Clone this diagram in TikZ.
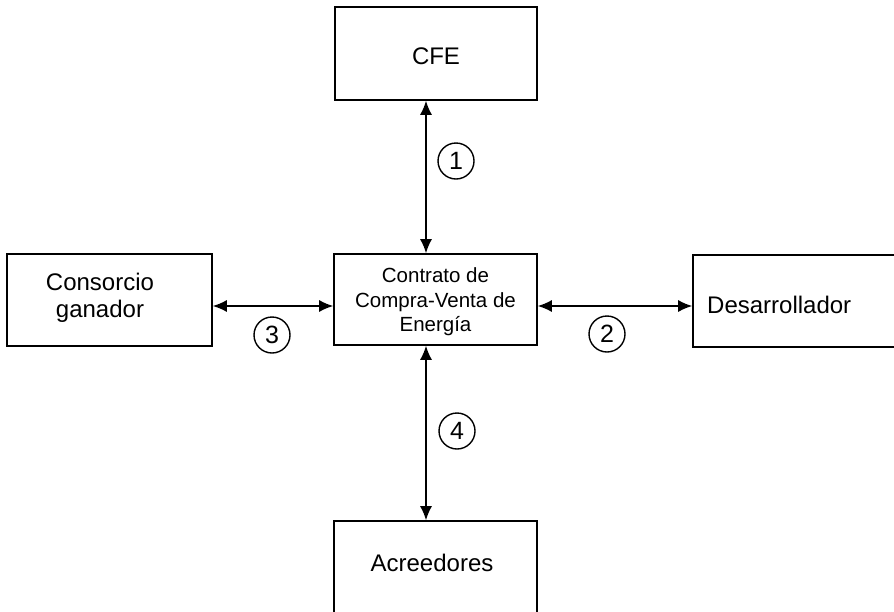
\documentclass[tikz,border=0pt]{standalone}
\usepackage{fontspec}
\setmainfont{Liberation Sans}
\usetikzlibrary{arrows.meta}
\begin{document}
\begin{tikzpicture}[x=1pt,y=-1pt,
  box/.style={draw,line width=1.6pt,rectangle,inner sep=0pt},
  lbl/.style={inner sep=0pt,font=\fontsize{24}{27}\selectfont,align=center},
  num/.style={draw,circle,line width=1.4pt,minimum size=36pt,inner sep=0pt,font=\fontsize{25}{25}\selectfont},
  link/.style={line width=1.4pt,{Latex[length=14pt,width=12pt]}-{Latex[length=14pt,width=12pt]}}]
\useasboundingbox (0,0) rectangle (894,611);
% boxes
\node[box,minimum width=202pt,minimum height=93pt] (cfe) at (436,53.5) {};
\node[box,minimum width=203pt,minimum height=91pt] (ctr) at (435.5,299.5) {};
\node[box,minimum width=205pt,minimum height=92pt] (cons) at (109.5,300) {};
\node[box,minimum width=212pt,minimum height=92pt] (des) at (799,301) {};
\node[box,minimum width=203pt,minimum height=100pt] (acr) at (435.5,571) {};
% texts
\node[lbl] (tcfe) at (436,56) {CFE};
\node[lbl,font=\fontsize{20.5}{24.5}\selectfont] (tctr) at (435.5,302) {Contrato de\\Compra-Venta de\\Energía};
\node[lbl] (tcons) at (100,298) {Consorcio\\ganador};
\node[lbl,anchor=west] (tdes) at (707,305) {Desarrollador};
\node[lbl] (tacr) at (432,563) {Acreedores};
% connector positions
\coordinate (xa) at (426,0);
\coordinate (ya) at (0,306);
\draw[link] (cfe.south -| xa) -- (ctr.north -| xa);
\draw[link] (ctr.south -| xa) -- (acr.north -| xa);
\draw[link] (cons.east |- ya) -- (ctr.west |- ya);
\draw[link] (ctr.east |- ya) -- (des.west |- ya);
% numbers
\node[num] (n1) at (456,161) {1};
\node[num] (n2) at (607,334) {2};
\node[num] (n3) at (272,335) {3};
\node[num] (n4) at (457,431) {4};
\end{tikzpicture}
\end{document}
